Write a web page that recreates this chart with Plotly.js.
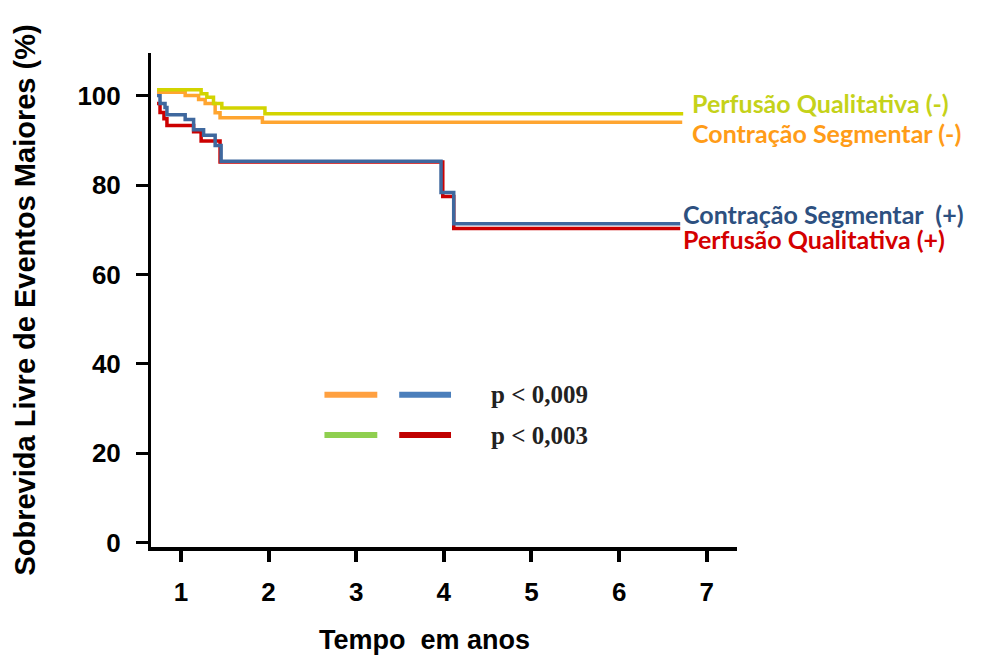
<!DOCTYPE html>
<html>
<head>
<meta charset="utf-8">
<script src="https://cdn.plot.ly/plotly-3.0.1.min.js"></script>
<style>html,body{margin:0;padding:0;background:#fff;}#chart{width:1005px;height:657px;}</style>
</head>
<body>
<div id="chart"></div>
<script>
// Kaplan-Meier style curves (time in years, survival %)
var perfNegT = [0.728, 1.231, 1.296, 1.372, 1.467, 1.959, 6.731];
var perfNegS = [101.4, 100.5, 99.7, 98.3, 97.3, 96.0, 96.0];

var contrNegT = [0.728, 1.049, 1.202, 1.277, 1.391, 1.447, 1.930, 6.72];
var contrNegS = [100.8, 100.1, 99.2, 98.3, 96.2, 95.1, 94.1, 94.1];

var contrPosT = [0.728, 0.762, 0.819, 0.841, 1.049, 1.145, 1.259, 1.391, 1.459, 3.968, 4.113, 6.697];
var contrPosS = [100.1, 98.3, 97.4, 95.8, 94.7, 92.4, 91.2, 88.9, 85.4, 78.4, 71.4, 71.4];

var perfPosT = [0.728, 0.762, 0.807, 0.841, 1.145, 1.231, 1.447, 3.988, 4.113, 6.697];
var perfPosS = [98.3, 96.3, 94.9, 93.4, 92.0, 89.9, 85.2, 77.5, 70.3, 70.3];

var seriesNames = ["Perfusão Qualitativa (-)", "Contração Segmentar (-)", "Contração Segmentar\u00a0 (+)", "Perfusão Qualitativa (+)"];
var xTicks = [1, 2, 3, 4, 5, 6, 7];
var yTicks = [0, 20, 40, 60, 80, 100];
var pLabels = ["p &lt; 0,009", "p &lt; 0,003"];
var xTitle = "Tempo\u00a0 em anos";
var yTitle = "Sobrevida Livre de Eventos Maiores (%)";

var lineW = 3.5;
var traces = [
  {x: perfPosT, y: perfPosS, name: seriesNames[3], mode: 'lines', line: {shape: 'hv', color: '#cc0000', width: lineW}},
  {x: contrPosT, y: contrPosS, name: seriesNames[2], mode: 'lines', line: {shape: 'hv', color: '#3f689e', width: lineW}},
  {x: contrNegT, y: contrNegS, name: seriesNames[1], mode: 'lines', line: {shape: 'hv', color: '#ffa530', width: lineW}},
  {x: perfNegT, y: perfNegS, name: seriesNames[0], mode: 'lines', line: {shape: 'hv', color: '#d2d400', width: lineW}}
];

var labFamily = 'Lato, "Open Sans", sans-serif';
function lab(txt, x, y, col) {
  return {text: txt, x: x, y: y, xref: 'x', yref: 'y', xanchor: 'left', yanchor: 'middle', showarrow: false,
    font: {family: labFamily, size: 25, weight: 'bold', color: col}};
}
var serif = '"Liberation Serif", "Times New Roman", serif';
var annotations = [
  lab(seriesNames[0], 6.81, 98.4, '#c5d21a'),
  lab(seriesNames[1], 6.81, 91.8, '#ff9c18'),
  lab(seriesNames[2], 6.708, 73.55, '#2d5080'),
  lab(seriesNames[3], 6.708, 67.9, '#d40000'),
  {text: pLabels[0], x: 4.514, y: 33.1, xref: 'x', yref: 'y', xanchor: 'left', yanchor: 'middle', showarrow: false,
    font: {family: serif, size: 25, weight: 'bold', color: '#222'}},
  {text: pLabels[1], x: 4.514, y: 24.1, xref: 'x', yref: 'y', xanchor: 'left', yanchor: 'middle', showarrow: false,
    font: {family: serif, size: 25, weight: 'bold', color: '#222'}},
  {text: xTitle, x: 0.466, y: -0.188, xref: 'paper', yref: 'paper', xanchor: 'center', yanchor: 'middle', showarrow: false,
    font: {family: '"Liberation Sans", Arial, sans-serif', size: 27, weight: 'bold', color: '#000'}}
];

function seg(x0, x1, y, col) {
  return {type: 'line', xref: 'x', yref: 'y', x0: x0, x1: x1, y0: y, y1: y, line: {color: col, width: 6}};
}
var shapes = [
  seg(2.638, 3.241, 33.1, '#ffa040'),
  seg(3.491, 4.082, 33.1, '#4a7ebb'),
  seg(2.638, 3.241, 24.1, '#8fcf4f'),
  seg(3.491, 4.082, 24.1, '#c00000')
];

var tickFont = {family: '"Liberation Sans", Arial, sans-serif', size: 26, weight: 'bold', color: '#000'};
var layout = {
  width: 1005, height: 657,
  margin: {l: 151, r: 268, t: 53, b: 110},
  paper_bgcolor: '#fff', plot_bgcolor: '#fff',
  showlegend: false,
  xaxis: {
    range: [0.659, 7.345], tickvals: xTicks, ticktext: xTicks.map(String),
    showgrid: false, zeroline: false, showline: true, linecolor: '#000', linewidth: 4,
    ticks: 'outside', ticklen: 11, tickwidth: 4, tickcolor: '#000',
    tickfont: tickFont, ticklabelstandoff: 8
  },
  yaxis: {
    range: [-0.96, 109.6], tickvals: yTicks, ticktext: yTicks.map(String),
    showgrid: false, zeroline: false, showline: true, linecolor: '#000', linewidth: 3,
    ticks: 'outside', ticklen: 12, tickwidth: 3, tickcolor: '#000',
    tickfont: tickFont, ticklabelstandoff: 10,
    title: {text: yTitle, font: {family: '"Liberation Sans", Arial, sans-serif', size: 29, weight: 'bold', color: '#000'}, standoff: 34}
  },
  annotations: annotations,
  shapes: shapes
};

Plotly.newPlot('chart', traces, layout, {displayModeBar: false, staticPlot: true});
</script>
</body>
</html>
